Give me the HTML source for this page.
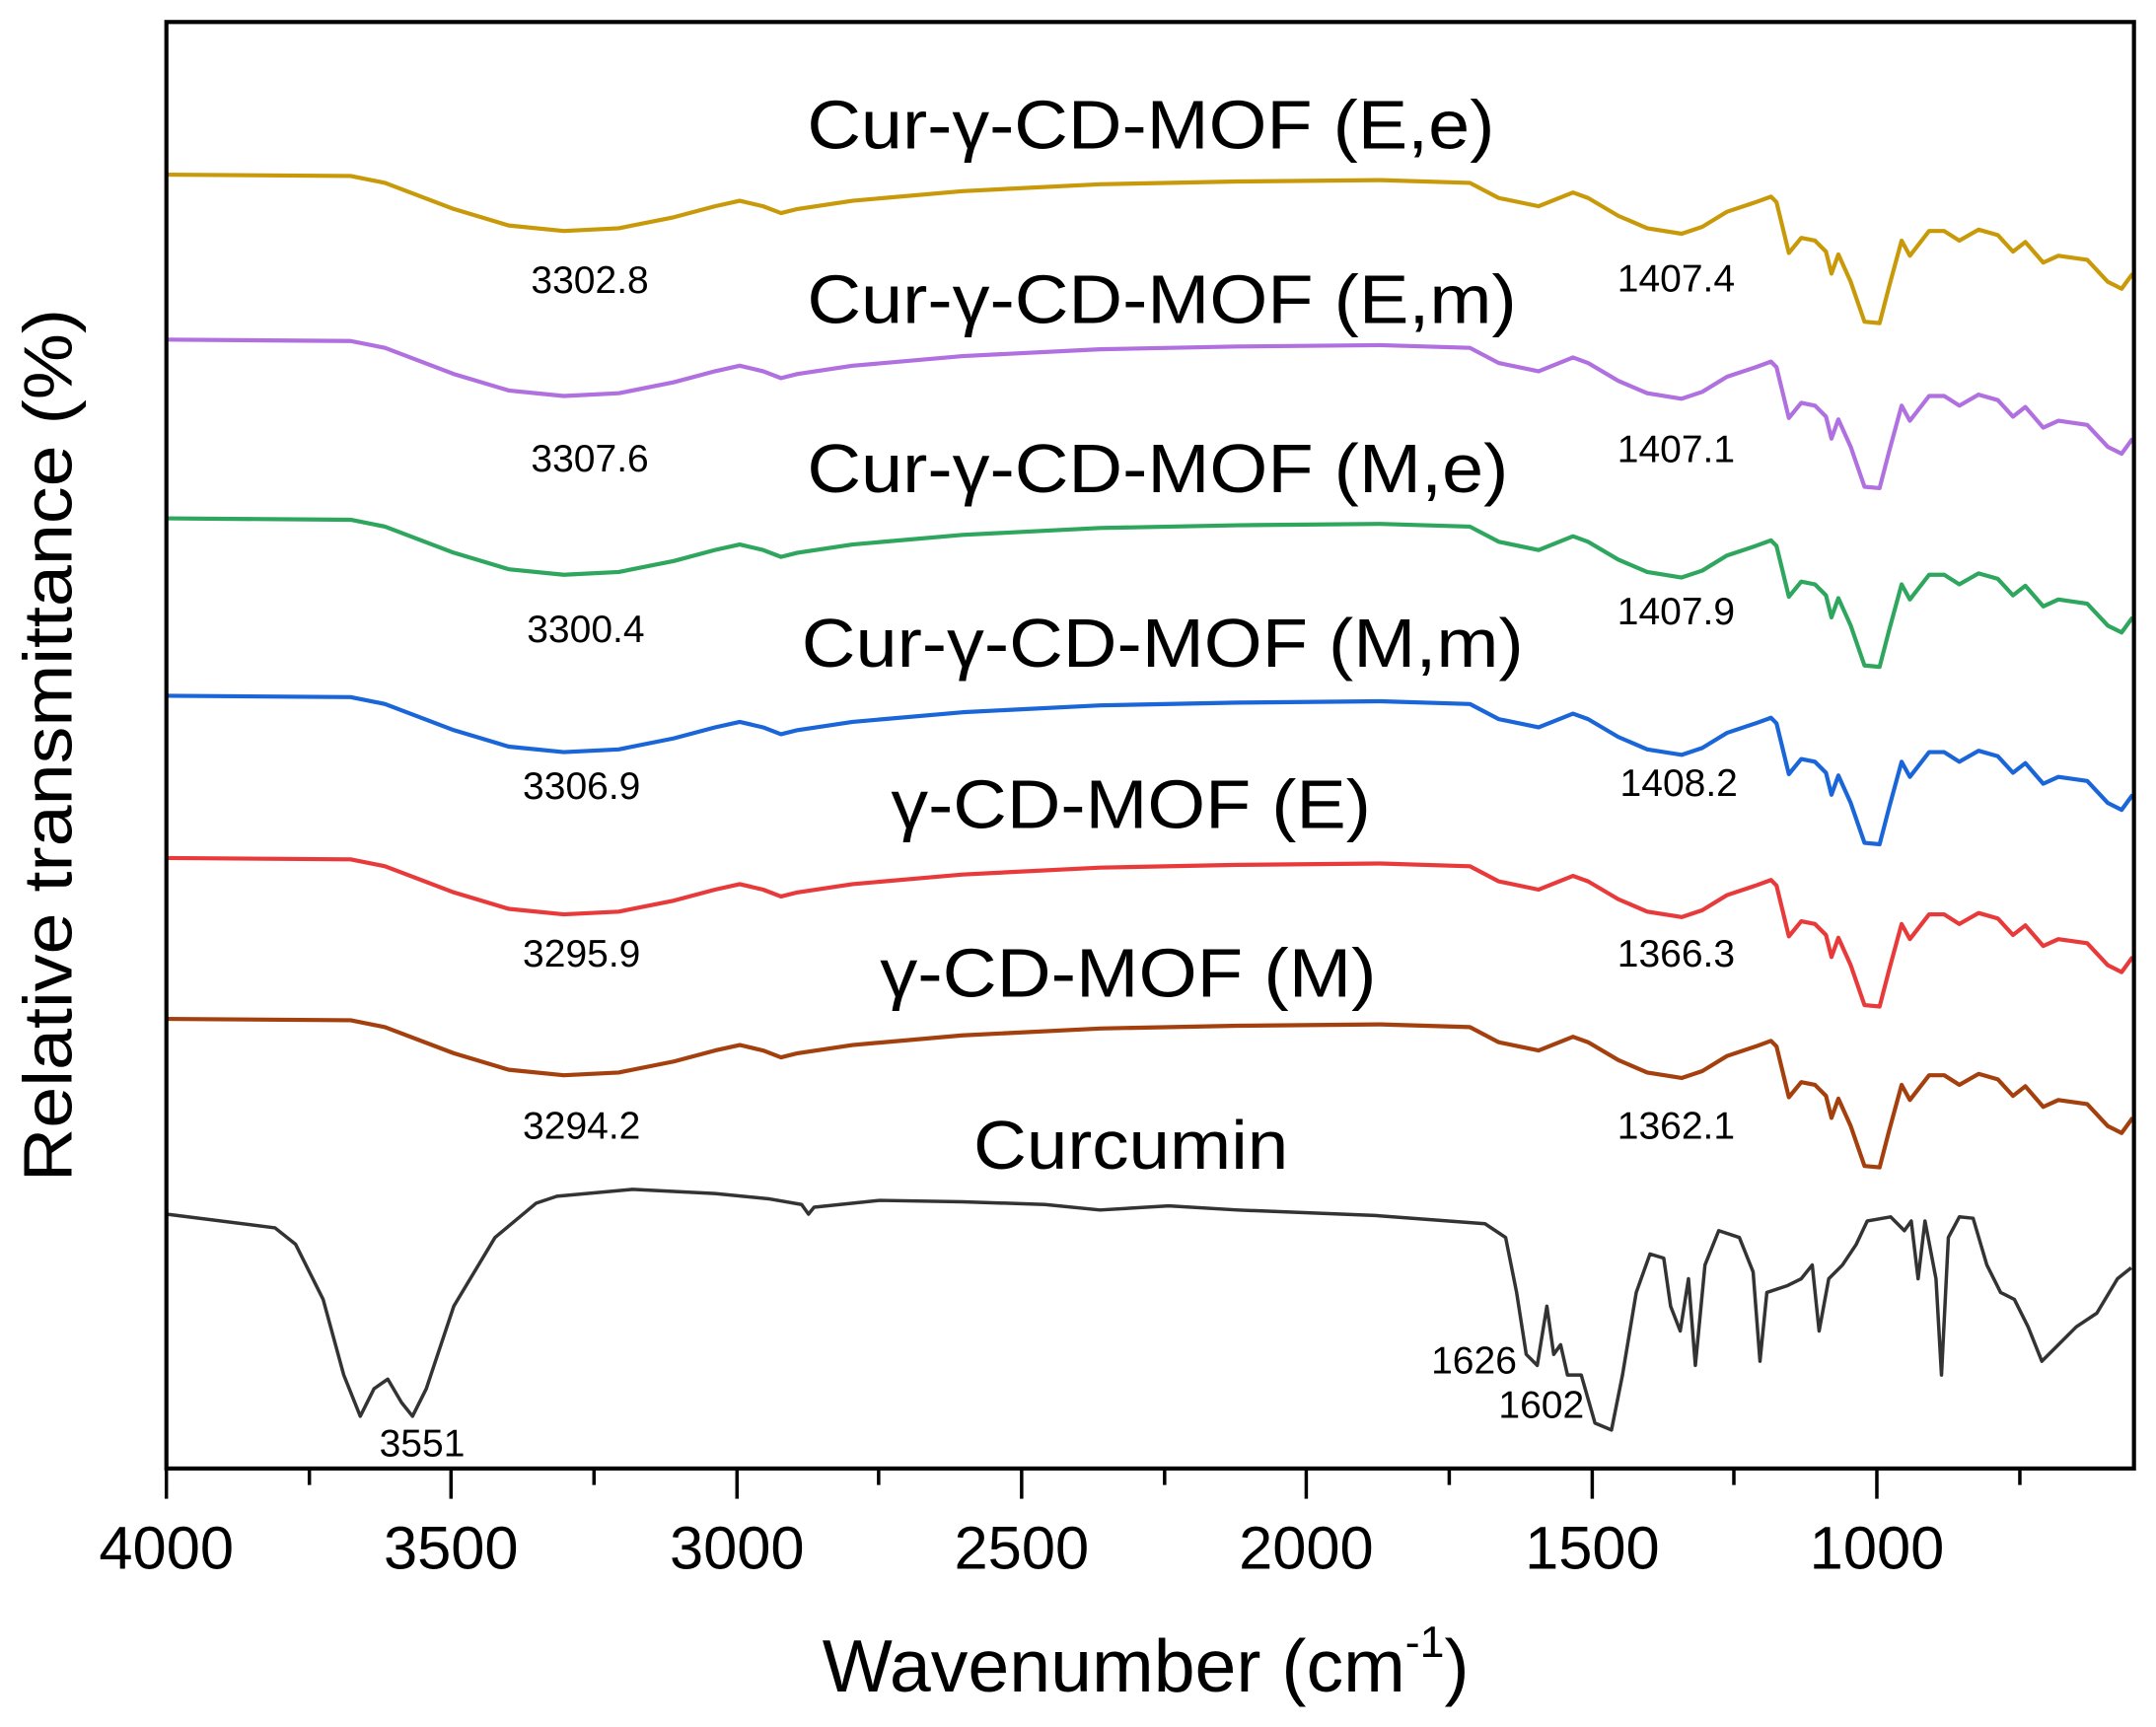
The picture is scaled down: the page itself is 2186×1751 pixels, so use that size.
<!DOCTYPE html>
<html><head><meta charset="utf-8"><style>
html,body{margin:0;padding:0;background:#fff;}
svg{display:block;}
text{font-family:"Liberation Sans",sans-serif;fill:#000;}
</style></head><body>
<svg width="2186" height="1751" viewBox="0 0 1568 1256" xmlns="http://www.w3.org/2000/svg">
<defs>
<path id="s" fill="none" stroke-width="3" stroke-linejoin="round" d="M121,127 L255,128 L280,133 L330,152 L370,164 L410,168 L450,166 L490,158 L520,150 L538,146 L555,150 L568,155 L580,152 L620,146 L700,139 L800,134 L900,132 L1004,131 L1069,133 L1090,144 L1119,150 L1144,140 L1155,144 L1177,157 L1198,166 L1223,170 L1238,165 L1256,154 L1277,147 L1288,143 L1292,147 L1301,184 L1310,173 L1320,175 L1328,183 L1332,199 L1337,185 L1346,205 L1356,234 L1367,235 L1374,208 L1383,175 L1389,186 L1403,168 L1414,168 L1425,175 L1439,167 L1453,171 L1464,183 L1473,176 L1486,191 L1497,186 L1518,189 L1533,205 L1543,210 L1551,199"/>
</defs>
<use href="#s" stroke="#c89a0a"/>
<use href="#s" stroke="#b070e0" transform="translate(0,120)"/>
<use href="#s" stroke="#2ea65e" transform="translate(0,250)"/>
<use href="#s" stroke="#1a66d8" transform="translate(0,379)"/>
<use href="#s" stroke="#e83a3a" transform="translate(0,497)"/>
<use href="#s" stroke="#a4400e" transform="translate(0,614)"/>
<path fill="none" stroke="#333" stroke-width="2.5" stroke-linejoin="round" d="M121,883 L200,893 L215,905 L235,945 L250,1000 L262,1030 L272,1010 L282,1003 L292,1020 L300,1030 L310,1010 L330,950 L360,900 L390,875 L405,870 L460,865 L520,868 L560,872 L583,876 L588,883 L592,878 L640,873 L700,874 L760,876 L800,880 L850,877 L900,880 L1000,884 L1080,890 L1095,900 L1103,940 L1110,985 L1118,993 L1125,950 L1130,985 L1135,978 L1140,1000 L1150,1000 L1160,1035 L1172,1040 L1180,1000 L1190,940 L1200,912 L1210,915 L1215,950 L1222,968 L1228,930 L1233,993 L1240,920 L1250,895 L1265,900 L1275,925 L1280,990 L1285,940 L1300,935 L1310,930 L1318,920 L1323,968 L1330,930 L1340,920 L1350,905 L1358,888 L1375,885 L1385,895 L1390,888 L1395,930 L1400,888 L1408,930 L1412,1000 L1417,900 L1425,885 L1435,886 L1445,920 L1455,940 L1465,945 L1475,965 L1485,990 L1495,980 L1510,965 L1525,955 L1540,930 L1550,922"/>
<rect x="121" y="16" width="1431" height="1052" fill="none" stroke="#000" stroke-width="3"/>
<g stroke="#000" stroke-width="2.5">
<line x1="121" y1="1068" x2="121" y2="1090"/><line x1="328" y1="1068" x2="328" y2="1090"/>
<line x1="536" y1="1068" x2="536" y2="1090"/><line x1="743" y1="1068" x2="743" y2="1090"/>
<line x1="950" y1="1068" x2="950" y2="1090"/><line x1="1158" y1="1068" x2="1158" y2="1090"/>
<line x1="1365" y1="1068" x2="1365" y2="1090"/>
<line x1="225" y1="1068" x2="225" y2="1080"/><line x1="432" y1="1068" x2="432" y2="1080"/>
<line x1="639" y1="1068" x2="639" y2="1080"/><line x1="847" y1="1068" x2="847" y2="1080"/>
<line x1="1054" y1="1068" x2="1054" y2="1080"/><line x1="1261" y1="1068" x2="1261" y2="1080"/>
<line x1="1469" y1="1068" x2="1469" y2="1080"/>
</g>
<g font-size="44" text-anchor="middle">
<text x="121" y="1141" textLength="98" lengthAdjust="spacingAndGlyphs">4000</text><text x="328" y="1141" textLength="98" lengthAdjust="spacingAndGlyphs">3500</text><text x="536" y="1141" textLength="98" lengthAdjust="spacingAndGlyphs">3000</text>
<text x="743" y="1141" textLength="98" lengthAdjust="spacingAndGlyphs">2500</text><text x="950" y="1141" textLength="98" lengthAdjust="spacingAndGlyphs">2000</text><text x="1158" y="1141" textLength="98" lengthAdjust="spacingAndGlyphs">1500</text>
<text x="1365" y="1141" textLength="98" lengthAdjust="spacingAndGlyphs">1000</text>
</g>
<text x="598" y="1230" font-size="54">Wavenumber (cm<tspan font-size="32" dy="-25">-1</tspan><tspan dy="25">)</tspan></text>
<text transform="translate(52,542) rotate(-90)" font-size="50" text-anchor="middle" textLength="635" lengthAdjust="spacingAndGlyphs">Relative transmittance (%)</text>
<g font-size="50">
<text x="587" y="108" textLength="500" lengthAdjust="spacingAndGlyphs">Cur-γ-CD-MOF (E,e)</text>
<text x="587" y="235" textLength="516" lengthAdjust="spacingAndGlyphs">Cur-γ-CD-MOF (E,m)</text>
<text x="587" y="358" textLength="510" lengthAdjust="spacingAndGlyphs">Cur-γ-CD-MOF (M,e)</text>
<text x="583" y="485" textLength="525" lengthAdjust="spacingAndGlyphs">Cur-γ-CD-MOF (M,m)</text>
<text x="648" y="602" textLength="349" lengthAdjust="spacingAndGlyphs">γ-CD-MOF (E)</text>
<text x="640" y="725" textLength="361" lengthAdjust="spacingAndGlyphs">γ-CD-MOF (M)</text>
<text x="708" y="850" textLength="229" lengthAdjust="spacingAndGlyphs">Curcumin</text>
</g>
<g font-size="28" text-anchor="middle">
<text x="429" y="213">3302.8</text><text x="1219" y="212">1407.4</text>
<text x="429" y="343">3307.6</text><text x="1219" y="336">1407.1</text>
<text x="426" y="467">3300.4</text><text x="1219" y="454">1407.9</text>
<text x="423" y="581">3306.9</text><text x="1221" y="579">1408.2</text>
<text x="423" y="703">3295.9</text><text x="1219" y="703">1366.3</text>
<text x="423" y="828">3294.2</text><text x="1219" y="828">1362.1</text>
<text x="307" y="1059">3551</text>
<text x="1072" y="999">1626</text>
<text x="1121" y="1031">1602</text>
</g>
</svg>
</body></html>
